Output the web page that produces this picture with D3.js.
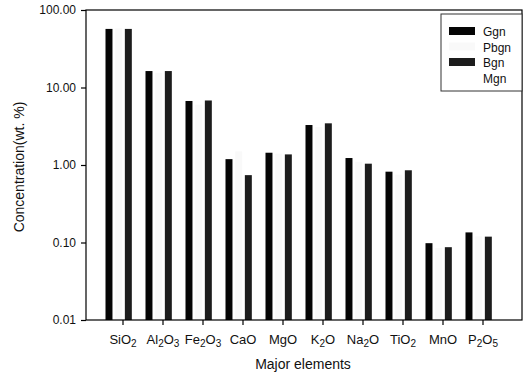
<!DOCTYPE html>
<html>
<head>
<meta charset="utf-8">
<script src="https://cdn.jsdelivr.net/npm/d3@7"></script>
<style>
  body { margin: 0; background: #fff; }
  svg { display: block; font-family: "Liberation Sans", Arial, sans-serif; }
</style>
</head>
<body>
<svg id="chart" width="523" height="376"></svg>
<script>
// oxides on the x axis, digits get drawn as subscripts
const categories = ["SiO2", "Al2O3", "Fe2O3", "CaO", "MgO", "K2O", "Na2O", "TiO2", "MnO", "P2O5"];
const series = ["Ggn", "Pbgn", "Bgn", "Mgn"];
const ggn  = [57, 16.3, 6.7, 1.19, 1.44, 3.28, 1.23, 0.82, 0.098, 0.135];
const pbgn = [58, 15.5, 6.0, 1.5, 1.4, 3.1, 1.1, 0.75, 0.085, 0.12];
const bgn  = [57, 16.3, 6.8, 0.74, 1.37, 3.45, 1.04, 0.855, 0.087, 0.119];
const mgn  = [60, 15.8, 6.3, 0.9, 1.3, 3.3, 1.1, 0.8, 0.09, 0.11];
const yTicks = [0.01, 0.1, 1, 10, 100];

const values = {Ggn: ggn, Pbgn: pbgn, Bgn: bgn, Mgn: mgn};
const fills = {Ggn: "#050505", Pbgn: "#f9f9f9", Bgn: "#1c1c1c", Mgn: "#ffffff"};

const svg = d3.select("#chart");
const frame = {left: 86, top: 10, right: 522, bottom: 320};

const x = d3.scaleBand().domain(categories).range([103, 503]);
const xs = d3.scaleBand().domain(series).range([-17.5, 18.5]).paddingInner(0.28);
const y = d3.scaleLog().domain([0.01, 100]).range([frame.bottom, frame.top]);

// bars
const groups = svg.append("g").selectAll("g")
    .data(categories)
    .join("g")
    .attr("transform", d => `translate(${x(d) + x.bandwidth() / 2},0)`);

groups.selectAll("rect")
    .data((d, i) => series.map(s => ({s: s, v: values[s][i]})))
    .join("rect")
    .attr("x", d => xs(d.s))
    .attr("width", xs.bandwidth())
    .attr("y", d => y(d.v))
    .attr("height", d => frame.bottom - y(d.v))
    .attr("fill", d => fills[d.s]);

// frame
svg.append("rect")
    .attr("x", frame.left).attr("y", frame.top)
    .attr("width", frame.right - frame.left)
    .attr("height", frame.bottom - frame.top)
    .attr("fill", "none").attr("stroke", "#000").attr("stroke-width", 1.2);

// y axis
const yAxis = svg.append("g")
    .attr("transform", `translate(${frame.left},0)`)
    .call(d3.axisLeft(y).tickValues(yTicks).tickFormat(d3.format(".2f")).tickSize(5).tickSizeOuter(0));
yAxis.select(".domain").remove();
yAxis.selectAll("text").attr("font-size", 12).attr("fill", "#111").attr("font-family", null).attr("dx", -2);
yAxis.selectAll("line").attr("stroke-width", 1.2);

// x axis
const xAxis = svg.append("g")
    .attr("transform", `translate(0,${frame.bottom})`)
    .call(d3.axisBottom(x).tickSize(5).tickSizeOuter(0).tickFormat(""));
xAxis.select(".domain").remove();
xAxis.selectAll("line").attr("stroke-width", 1.2);

const lbl = svg.append("g").selectAll("text")
    .data(categories)
    .join("text")
    .attr("x", d => x(d) + x.bandwidth() / 2)
    .attr("y", frame.bottom + 24)
    .attr("text-anchor", "middle")
    .attr("font-size", 13)
    .attr("fill", "#111");

lbl.each(function(d) {
    const t = d3.select(this);
    let sub = false;
    d.split(/(\d)/).filter(p => p).forEach(p => {
        const isSub = /\d/.test(p);
        const span = t.append("tspan").text(p);
        if (isSub && !sub) span.attr("font-size", 10).attr("dy", 3);
        if (!isSub && sub) span.attr("dy", -3);
        sub = isSub;
    });
});

// axis titles
svg.append("text")
    .attr("x", 303).attr("y", 369)
    .attr("text-anchor", "middle")
    .attr("font-size", 14)
    .attr("fill", "#111")
    .text("Major elements");

svg.append("text")
    .attr("transform", "translate(24,167) rotate(-90)")
    .attr("text-anchor", "middle")
    .attr("font-size", 14)
    .attr("fill", "#111")
    .text("Concentration(wt. %)");

// legend
const legend = svg.append("g").attr("transform", "translate(441,14)");
legend.append("rect")
    .attr("width", 81).attr("height", 77)
    .attr("fill", "#fff").attr("stroke", "#333").attr("stroke-width", 1);

const item = legend.selectAll("g.item")
    .data(series)
    .join("g")
    .attr("class", "item")
    .attr("transform", (d, i) => `translate(0,${18 + i * 15.5})`);

item.append("rect")
    .attr("x", 8).attr("y", -5)
    .attr("width", 26).attr("height", 8)
    .attr("fill", d => fills[d]);

item.append("text")
    .attr("x", 42).attr("y", 4)
    .attr("font-size", 12)
    .attr("fill", "#111")
    .text(d => d);
</script>
</body>
</html>
